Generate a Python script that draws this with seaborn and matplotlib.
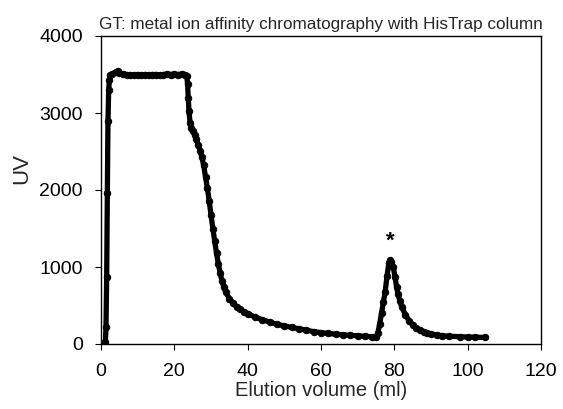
import matplotlib
matplotlib.use("Agg")
import matplotlib.pyplot as plt
import seaborn as sns
import pandas as pd

# Data
elution_ml = [0, 0.3, 0.6, 0.9, 1.2, 1.36, 1.55, 1.73, 1.9, 2.1, 2.27, 2.5, 3, 4, 4.5, 5, 6, 7, 8, 9,
              10, 11, 12, 13, 14, 15, 16, 17, 18, 19, 20, 21, 22, 23, 23.4, 23.6, 23.8, 24.0, 24.3, 24.6,
              25, 25.5, 26, 26.5, 27, 27.5, 28, 28.5, 29, 29.5, 30, 30.5, 31, 31.5, 32, 32.5, 33, 33.5,
              34, 35, 36, 37, 38, 39, 40, 42, 44, 46, 48, 50, 52, 54, 56, 58, 60, 62, 64, 66, 68, 70,
              72, 74, 75, 75.5, 76, 76.5, 77, 77.5, 78, 78.5, 78.8, 79.2, 79.7, 80.2, 80.6, 81, 81.5, 82,
              83, 84, 85, 86, 87, 88, 89, 90, 91.5, 93, 95, 97.9, 100, 102, 104.7]
uv = [0, 0, 0, 0, 20, 225, 875, 1957, 2896, 3300, 3430, 3490, 3510, 3530, 3545, 3520, 3510, 3500, 3490, 3495,
      3500, 3495, 3500, 3495, 3500, 3500, 3495, 3500, 3505, 3500, 3505, 3500, 3505, 3500, 3480, 3380, 3200, 3020, 2870, 2810,
      2770, 2720, 2660, 2590, 2510, 2430, 2320, 2170, 2030, 1860, 1680, 1500, 1340, 1180, 1040, 920, 820, 740,
      680, 590, 530, 484, 450, 420, 395, 350, 315, 285, 255, 235, 215, 198, 180, 160, 148, 137, 127, 120, 113, 106,
      100, 95, 92, 140, 260, 400, 540, 680, 880, 1050, 1090, 1070, 1000, 870, 744, 650, 560, 484,
      380, 305, 250, 210, 182, 160, 143, 130, 117, 108, 100, 95, 90, 88, 85]

x_ticks = [0, 20, 40, 60, 80, 100, 120]
y_ticks = [0, 1000, 2000, 3000, 4000]
title = "GT: metal ion affinity chromatography with HisTrap column"
peak_mark = (78.8, 1330)

df = pd.DataFrame({"Elution volume (ml)": elution_ml, "UV": uv})

sns.set_theme(style="ticks")
plt.rcParams["font.family"] = ["Liberation Sans", "DejaVu Sans"]

fig = plt.figure(figsize=(5.63, 4.09), dpi=100)
ax = fig.add_axes([101 / 563, 1 - 344 / 409, 440 / 563, 308 / 409])

sns.lineplot(data=df, x="Elution volume (ml)", y="UV", ax=ax, sort=False,
             color="black", linewidth=3.8, marker="o", markersize=4.6,
             markeredgecolor="black", markerfacecolor="black")

ax.set_xlim(0, 120)
ax.set_ylim(0, 4000)
ax.set_xticks(x_ticks)
ax.set_yticks(y_ticks)
ax.tick_params(axis="both", labelsize=14, length=4, width=0.8, direction="out",
               colors="black")
ax.tick_params(axis="x", pad=10)
ax.tick_params(axis="y", pad=9)
for s in ax.spines.values():
    s.set_linewidth(1.0)
    s.set_color("black")
    s.set_visible(True)

ax.set_xlabel("Elution volume (ml)", fontsize=14.5)
ax.set_ylabel("UV", fontsize=16)
ax.xaxis.set_label_coords(0.5, -0.12)
ax.yaxis.set_label_coords(-0.157, 0.571)
ax.set_title(title, fontsize=12.3, pad=5)
ax.text(peak_mark[0], peak_mark[1], "*", ha="center", va="center", fontsize=16,
        fontweight="bold", color="black")

fig.savefig("out.png", dpi=100)
